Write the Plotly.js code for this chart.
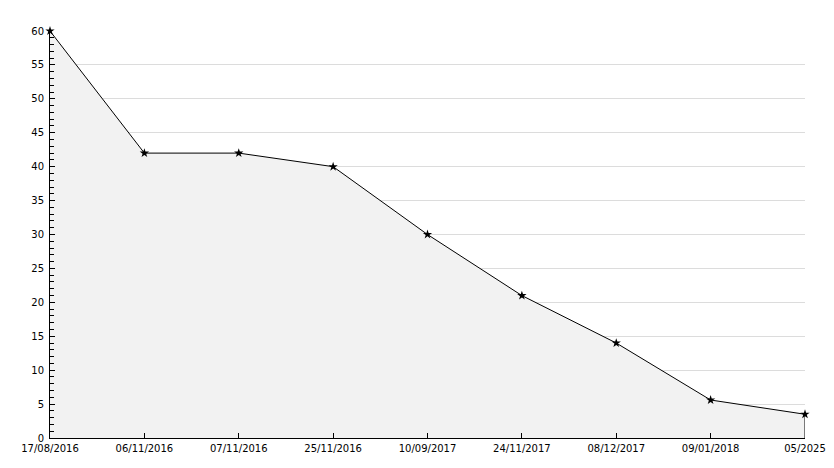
<!DOCTYPE html>
<html>
<head>
<meta charset="utf-8">
<script src="https://cdn.plot.ly/plotly-3.0.1.min.js"></script>
<style>html,body{margin:0;padding:0;background:#fff;}#chart{width:834px;height:468px;}</style>
</head>
<body>
<div id="chart"></div>
<script>
const dates = ["17/08/2016","06/11/2016","07/11/2016","25/11/2016","10/09/2017","24/11/2017","08/12/2017","09/01/2018","05/2025"];
const values = [60, 42, 42, 40, 30, 21, 14, 5.6, 3.5];
const yTicks = [0,5,10,15,20,25,30,35,40,45,50,55,60];

const idx = dates.map((d,i)=>i);
const lastI = idx[idx.length-1];

const trace = {
  x: idx,
  y: values,
  type: 'scatter',
  mode: 'lines+markers',
  fill: 'tozeroy',
  fillcolor: '#f2f2f2',
  line: {color: '#000', width: 1},
  marker: {symbol: 'star', size: 7, color: '#000'},
  cliponaxis: false,
  hoverinfo: 'skip'
};

// closing edge of the filled area at the last point
const edge = {
  x: [lastI, lastI],
  y: [0, values[values.length-1]],
  type: 'scatter', mode: 'lines',
  line: {color: '#000', width: 1},
  cliponaxis: false,
  hoverinfo: 'skip'
};

const layout = {
  width: 834, height: 468,
  margin: {l: 50, r: 29, t: 31, b: 30},
  paper_bgcolor: '#fff', plot_bgcolor: '#fff',
  showlegend: false,
  font: {family: 'DejaVu Sans, sans-serif', size: 10, color: '#000'},
  xaxis: {
    type: 'linear',
    range: [0, dates.length - 1],
    tickmode: 'array',
    tickvals: idx,
    ticktext: dates,
    ticks: 'inside', ticklen: 5, tickcolor: '#000', tickwidth: 1,
    showgrid: false, zeroline: false,
    showline: true, linecolor: '#000', linewidth: 1,
    tickfont: {size: 10, color: '#000'},
    ticklabelstandoff: 1,
    fixedrange: true
  },
  yaxis: {
    range: [0, 60],
    tickmode: 'array',
    tickvals: yTicks,
    ticks: 'inside', ticklen: 5, tickcolor: '#000', tickwidth: 1,
    minor: {dtick: 1, ticks: 'inside', ticklen: 4, tickcolor: '#000', showgrid: false},
    showgrid: true, gridcolor: '#dcdcdc', gridwidth: 1,
    zeroline: false,
    showline: true, linecolor: '#000', linewidth: 1,
    tickfont: {size: 10, color: '#000'},
    ticklabelstandoff: 3,
    fixedrange: true
  }
};

Plotly.newPlot('chart', [trace, edge], layout, {displayModeBar: false, staticPlot: true});
</script>
</body>
</html>
